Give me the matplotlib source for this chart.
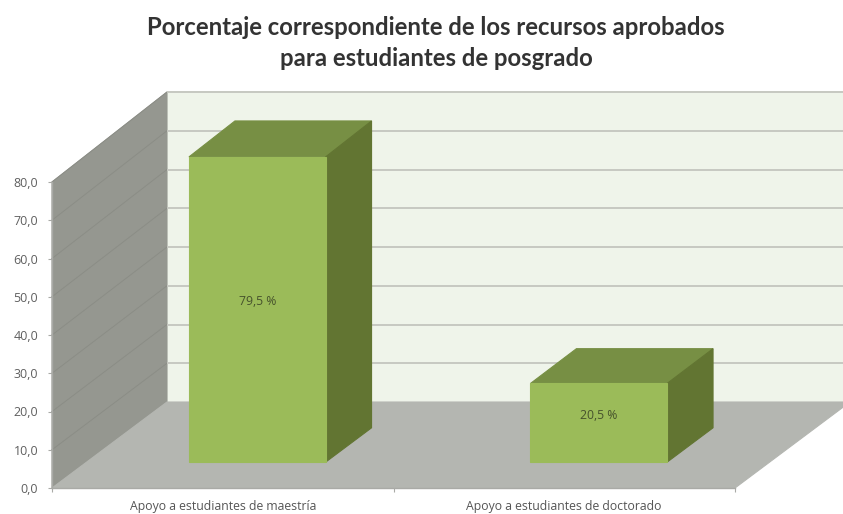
import matplotlib
matplotlib.use('Agg')
import matplotlib.pyplot as plt
from matplotlib.patches import Polygon

plt.rcParams['font.family'] = ['Open Sans', 'DejaVu Sans']

categories = ['Apoyo a estudiantes de maestría', 'Apoyo a estudiantes de doctorado']
values = [79.5, 20.5]
value_labels = ['79,5 %', '20,5 %']
yticks = [0, 10, 20, 30, 40, 50, 60, 70, 80]
ytick_labels = ['0,0', '10,0', '20,0', '30,0', '40,0', '50,0', '60,0', '70,0', '80,0']
title = 'Porcentaje correspondiente de los recursos aprobados\npara estudiantes de posgrado'

W, H = 843, 514

# oblique depth, in data units per full chart depth
DEPTH_X = 115 / 341.5
DEPTH_Y = 86 / 3.825
BACK_STRETCH = 0.013


def project(x, y, d):
    return x + d * DEPTH_X, y * (1 + BACK_STRETCH * d) + d * DEPTH_Y


def face(ax, pts, color, z, edge=None):
    xy = [project(*p) for p in pts]
    ax.add_patch(Polygon(xy, closed=True, facecolor=color, edgecolor=edge or color,
                         linewidth=0.8, zorder=z, clip_on=False))


fig = plt.figure(figsize=(W / 100, H / 100), dpi=100)
ax = fig.add_axes([52 / W, 26 / H, 683 / W, 306 / H])
ax.set_xlim(0, 2)
ax.set_ylim(0, 80)
ax.patch.set_visible(False)

# walls and floor
face(ax, [(0, 0, 1), (2, 0, 1), (2, 80, 1), (0, 80, 1)], '#eff4ea', 1)
face(ax, [(0, 0, 0), (0, 0, 1), (0, 80, 1), (0, 80, 0)], '#959790', 1)
face(ax, [(0, 0, 0), (2, 0, 0), (2, 0, 1), (0, 0, 1)], '#b4b6b1', 2)

# gridlines on back and side wall
for t in yticks[1:]:
    x0, y0 = project(0, t, 0)
    x1, y1 = project(0, t, 1)
    x2, y2 = project(2, t, 1)
    ax.plot([x0, x1], [y0, y1], color='#8b8d86', lw=0.7, zorder=1.5, clip_on=False)
    ax.plot([x1, x2], [y1, y2], color='#c6c8c1', lw=1.4, zorder=1.5, clip_on=False,
            solid_capstyle='butt')

# bars
bar_w = 0.4
d0, d1 = 0.3, 0.7
for i, v in enumerate(values):
    xa = i + 0.5 - bar_w / 2
    xb = i + 0.5 + bar_w / 2
    face(ax, [(xa, v, d0), (xb, v, d0), (xb, v, d1), (xa, v, d1)], '#778f44', 3)
    face(ax, [(xb, 0, d0), (xb, 0, d1), (xb, v, d1), (xb, v, d0)], '#627532', 3)
    face(ax, [(xa, 0, d0), (xb, 0, d0), (xb, v, d0), (xa, v, d0)], '#9bbb59', 4)
    cx, cy = project(i + 0.5, v / 2, d0)
    ax.annotate(value_labels[i], (cx, cy), xytext=(0, 5.5), textcoords='offset points',
                ha='center', va='center', fontsize=8.8, color='#46522c', zorder=5)

# axes
for s in ['top', 'right']:
    ax.spines[s].set_visible(False)
for s in ['left', 'bottom']:
    ax.spines[s].set_color('#a9aaa6')
    ax.spines[s].set_linewidth(1.0)
    ax.spines[s].set_zorder(6)
ax.set_yticks(yticks)
ax.set_yticklabels(ytick_labels, fontsize=9, color='#5f5f5f')
ax.set_xticks([0, 1, 2])
ax.set_xticklabels([])
ax.tick_params(axis='both', length=3, width=0.8, color='#a9aaa6', pad=7)
for i, c in enumerate(categories):
    ax.text(i + 0.5, -5.7, c, ha='center', va='baseline', fontsize=8.8, color='#555555')

fig.text(436 / W, 1 - 43 / H, title, ha='center', va='center', fontsize=17.2,
         fontweight='bold', family=['Lato', 'DejaVu Sans'], color='#333333', linespacing=1.42)

fig.savefig('out.png', dpi=100)
plt.close(fig)
